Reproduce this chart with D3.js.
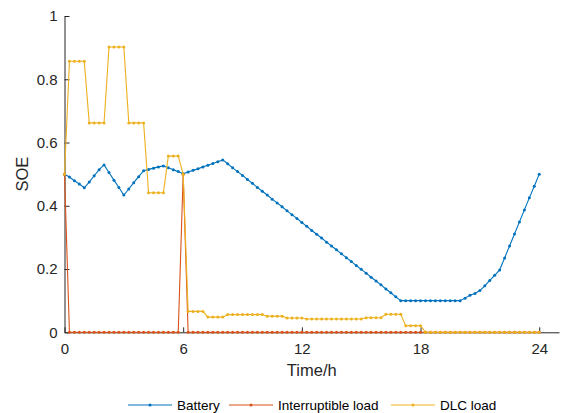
<!DOCTYPE html>
<html>
<head>
<meta charset="utf-8">
<script src="https://cdn.jsdelivr.net/npm/d3@7"></script>
<style>
  body { margin: 0; background: #fff; }
  svg { display: block; font-family: "Liberation Sans", Arial, sans-serif; }
  .axis path, .axis line { stroke: #262626; }
  .axis text { fill: #262626; font-size: 15px; }
</style>
</head>
<body>
<svg id="chart" width="561" height="413"></svg>
<script>
// time grid, 15 min steps (h)
var hours = [
  0, 0.25, 0.5, 0.75, 1, 1.25, 1.5, 1.75, 2, 2.25, 2.5, 2.75, 3, 3.25, 3.5, 3.75,
  4, 4.25, 4.5, 4.75, 5, 5.25, 5.5, 5.75, 6, 6.25, 6.5, 6.75, 7, 7.25, 7.5, 7.75,
  8, 8.25, 8.5, 8.75, 9, 9.25, 9.5, 9.75, 10, 10.25, 10.5, 10.75, 11, 11.25, 11.5, 11.75,
  12, 12.25, 12.5, 12.75, 13, 13.25, 13.5, 13.75, 14, 14.25, 14.5, 14.75, 15, 15.25, 15.5, 15.75,
  16, 16.25, 16.5, 16.75, 17, 17.25, 17.5, 17.75, 18, 18.25, 18.5, 18.75, 19, 19.25, 19.5, 19.75,
  20, 20.25, 20.5, 20.75, 21, 21.25, 21.5, 21.75, 22, 22.25, 22.5, 22.75, 23, 23.25, 23.5, 23.75,
  24
];

var battery = [
  0.500, 0.491, 0.479, 0.469, 0.457, 0.475, 0.495, 0.514, 0.529, 0.505, 0.481, 0.458, 0.434, 0.453, 0.473, 0.492,
  0.511, 0.515, 0.519, 0.523, 0.526, 0.520, 0.514, 0.508, 0.501, 0.507, 0.512, 0.517, 0.523, 0.528, 0.534, 0.539,
  0.545, 0.533, 0.520, 0.508, 0.496, 0.483, 0.471, 0.458, 0.446, 0.434, 0.421, 0.409, 0.397, 0.384, 0.372, 0.360,
  0.347, 0.335, 0.322, 0.310, 0.298, 0.285, 0.273, 0.261, 0.248, 0.236, 0.224, 0.211, 0.199, 0.187, 0.174, 0.162,
  0.150, 0.137, 0.125, 0.112, 0.100, 0.100, 0.100, 0.100, 0.100, 0.100, 0.100, 0.100, 0.100, 0.100, 0.100, 0.100,
  0.100, 0.108, 0.117, 0.123, 0.132, 0.147, 0.164, 0.180, 0.197, 0.235, 0.273, 0.311, 0.349, 0.387, 0.425, 0.462,
  0.500
];

var interruptible = [
  0.5, 0, 0, 0, 0, 0, 0, 0, 0, 0, 0, 0, 0, 0, 0, 0,
  0, 0, 0, 0, 0, 0, 0, 0, 0.5, 0, 0, 0, 0, 0, 0, 0,
  0, 0, 0, 0, 0, 0, 0, 0, 0, 0, 0, 0, 0, 0, 0, 0,
  0, 0, 0, 0, 0, 0, 0, 0, 0, 0, 0, 0, 0, 0, 0, 0,
  0, 0, 0, 0, 0, 0, 0, 0, 0, 0, 0, 0, 0, 0, 0, 0,
  0, 0, 0, 0, 0, 0, 0, 0, 0, 0, 0, 0, 0, 0, 0, 0,
  0
];

var dlc = [
  0.500, 0.857, 0.857, 0.857, 0.857, 0.662, 0.662, 0.662, 0.662, 0.902, 0.902, 0.902, 0.902, 0.662, 0.662, 0.662,
  0.662, 0.441, 0.441, 0.441, 0.441, 0.557, 0.557, 0.557, 0.500, 0.066, 0.066, 0.066, 0.066, 0.048, 0.048, 0.048,
  0.048, 0.056, 0.056, 0.056, 0.056, 0.056, 0.056, 0.056, 0.056, 0.051, 0.051, 0.051, 0.051, 0.045, 0.045, 0.045,
  0.045, 0.042, 0.042, 0.042, 0.042, 0.042, 0.042, 0.042, 0.042, 0.042, 0.042, 0.042, 0.042, 0.046, 0.046, 0.046,
  0.046, 0.057, 0.057, 0.057, 0.057, 0.021, 0.021, 0.021, 0.021, 0, 0, 0, 0, 0, 0, 0,
  0, 0, 0, 0, 0, 0, 0, 0, 0, 0, 0, 0, 0, 0, 0, 0,
  0
];

var seriesNames = ['Battery', 'Interruptible load', 'DLC load'];
var seriesColors = ['#0072BD', '#D95319', '#EDB120'];
var xTicks = [0, 6, 12, 18, 24];
var yTicks = [0, 0.2, 0.4, 0.6, 0.8, 1];
var yTickLabels = ['0', '0.2', '0.4', '0.6', '0.8', '1'];

var svg = d3.select('#chart');

// plot box
var plot = {l: 64.5, r: 559, t: 16, b: 332.3};

var xScale = d3.scaleLinear().domain([0, 25]).range([plot.l, plot.r]);
var yScale = d3.scaleLinear().domain([0, 1]).range([plot.b, plot.t]);

// axes, ticks pointing inward
svg.append('g')
    .attr('class', 'x axis')
    .attr('transform', 'translate(0,' + plot.b + ')')
    .call(d3.axisBottom(xScale).tickValues(xTicks).tickSizeInner(-5).tickSizeOuter(0).tickPadding(11));

svg.append('g')
    .attr('class', 'y axis')
    .attr('transform', 'translate(' + plot.l + ',0)')
    .call(d3.axisLeft(yScale).tickValues(yTicks).tickSizeInner(-5).tickSizeOuter(0).tickPadding(7)
        .tickFormat(function(d, i) { return yTickLabels[i]; }));

svg.selectAll('.axis path, .axis line').attr('stroke-width', 1);

// axis labels
svg.append('text')
    .attr('x', (plot.l + plot.r) / 2)
    .attr('y', 376)
    .attr('text-anchor', 'middle')
    .attr('fill', '#262626')
    .style('font-size', '16.5px')
    .text('Time/h');

svg.append('text')
    .attr('transform', 'translate(27.5,' + (plot.t + plot.b) / 2 + ')rotate(-90)')
    .attr('text-anchor', 'middle')
    .attr('fill', '#262626')
    .style('font-size', '16.5px')
    .text('SOE');

// series
var allSeries = [battery, interruptible, dlc];
var line = d3.line()
    .x(function(d, i) { return xScale(hours[i]); })
    .y(function(d) { return yScale(d); });

allSeries.forEach(function(values, s) {
    var g = svg.append('g').attr('class', 'series');
    g.append('path')
        .datum(values)
        .attr('d', line)
        .attr('fill', 'none')
        .attr('stroke', seriesColors[s])
        .attr('stroke-width', 1.1);
    g.selectAll('circle')
        .data(values).enter()
        .append('circle')
        .attr('cx', function(d, i) { return xScale(hours[i]); })
        .attr('cy', function(d) { return yScale(d); })
        .attr('r', 1.5)
        .attr('fill', seriesColors[s]);
});

// legend below the axes
var legendY = 405;
var legendX = [128, 229, 391];
var legend = svg.append('g').attr('class', 'legend');
seriesNames.forEach(function(name, s) {
    var x0 = legendX[s];
    legend.append('line')
        .attr('x1', x0).attr('x2', x0 + 44)
        .attr('y1', legendY).attr('y2', legendY)
        .attr('stroke', seriesColors[s])
        .attr('stroke-width', 1.1);
    legend.append('circle')
        .attr('cx', x0 + 22).attr('cy', legendY)
        .attr('r', 1.5)
        .attr('fill', seriesColors[s]);
    legend.append('text')
        .attr('x', x0 + 49)
        .attr('y', legendY + 5)
        .attr('fill', '#000')
        .style('font-size', '13.5px')
        .text(name);
});
</script>
</body>
</html>
